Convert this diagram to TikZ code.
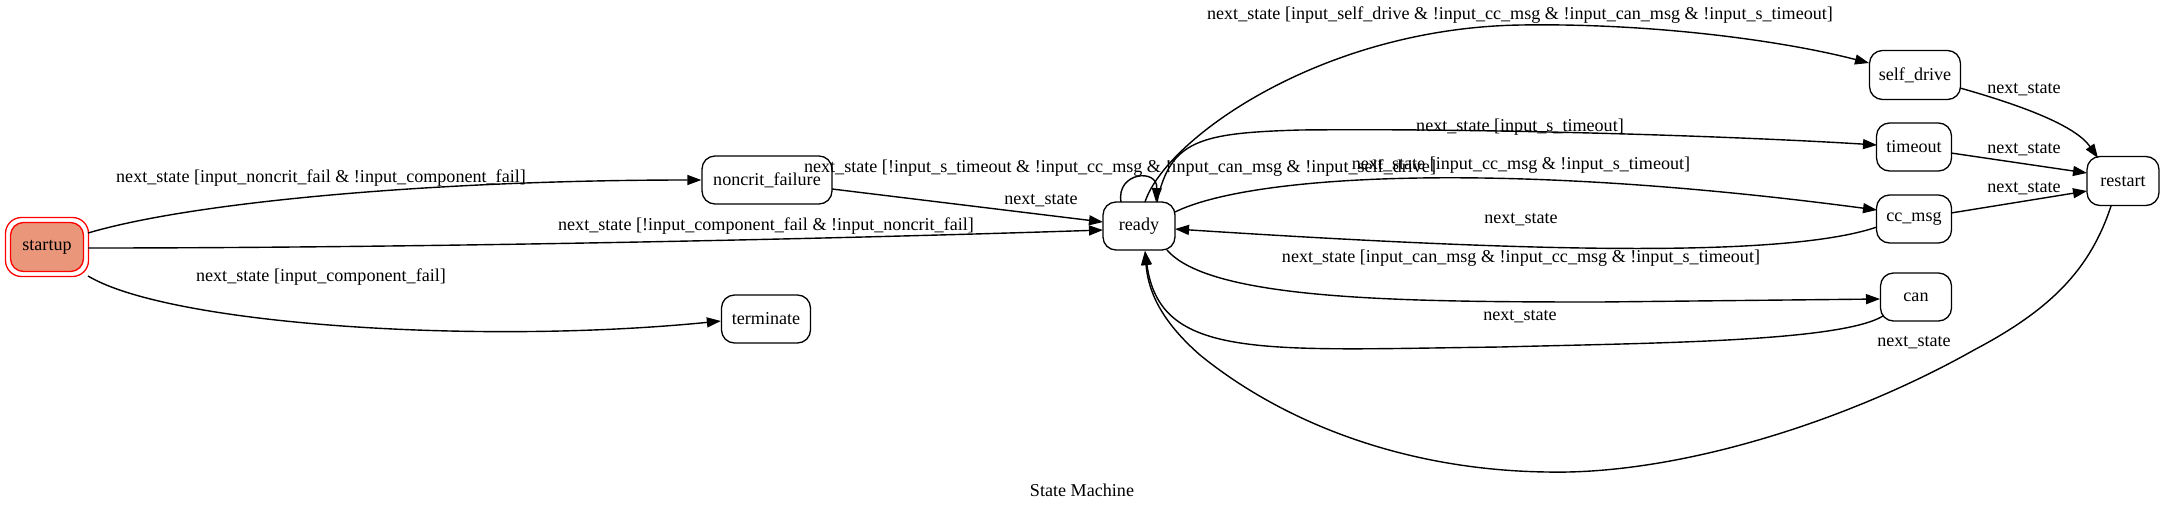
\documentclass[tikz,border=0pt]{standalone}
\usepackage{fontspec}
\setmainfont{Liberation Serif}
\usetikzlibrary{arrows.meta}
\definecolor{salmonfill}{HTML}{E9967A}
\newcommand{\lblfont}{\fontsize{18.1}{21}\selectfont}
\begin{document}
\begin{tikzpicture}[x=1pt,y=-1pt,
  state/.style={draw, line width=1.3pt, rounded corners=13pt, minimum height=48pt, inner sep=0pt, font=\lblfont},
  lab/.style={inner sep=0pt, font=\lblfont},
  edge/.style={line width=1.4pt, -{Triangle[length=14pt,width=10pt]}},
]
\useasboundingbox[fill=white] (0,0) rectangle (2164,509);
% nodes
\node[draw=red, line width=1.3pt, rounded corners=16pt, minimum width=83pt, minimum height=59pt, inner sep=0pt] (startup) at (47,247) {};
\node[state, draw=red, fill=salmonfill, minimum width=73pt, minimum height=49pt] (startupin) at (startup.center) {startup};
\node[state, minimum width=130pt] (noncrit) at (767,180) {noncrit\_failure};
\node[state, minimum width=89pt] (terminate) at (766,319) {terminate};
\node[state, minimum width=72pt] (ready) at (1139,226) {ready};
\node[state, minimum width=91pt, minimum height=49pt] (selfdrive) at (1915,75) {self\_drive};
\node[state, minimum width=75pt] (timeout) at (1914,147) {timeout};
\node[state, minimum width=75pt] (ccmsg) at (1914,219) {cc\_msg};
\node[state, minimum width=71pt] (can) at (1916,297) {can};
\node[state, minimum width=72pt, minimum height=49pt] (restart) at (2123,181) {restart};
% edges
\draw[edge] ([shift={(41,-14)}]startup.center) .. controls (200,200) and (450,180) .. (noncrit.west);
\draw[edge] ([shift={(41,1)}]startup.center) .. controls (400,248) and (800,240) .. ([shift={(-36,4)}]ready.center);
\draw[edge] ([shift={(41,29)}]startup.center) .. controls (170,325) and (480,345) .. ([shift={(0,2)}]terminate.west);
\draw[edge] ([shift={(65,9)}]noncrit.center) -- ([shift={(-36,-4)}]ready.center);
\draw[edge] ([shift={(-18,-24)}]ready.center) .. controls (1116,172) and (1158,168) .. ([shift={(17,-24)}]ready.center);
\draw[edge] ([shift={(6,-24)}]ready.center) .. controls (1165,140) and (1320,28) .. (1521,25) .. controls (1650,23) and (1780,40) .. ([shift={(-46,-12)}]selfdrive.center);
\draw[edge] ([shift={(18,-24)}]ready.center) .. controls (1170,140) and (1200,133) .. (1300,130) .. controls (1500,128) and (1750,137) .. ([shift={(-37,-2)}]timeout.center);
\draw[edge] ([shift={(36,-14)}]ready.center) .. controls (1250,175) and (1500,160) .. ([shift={(-37,-9)}]ccmsg.center);
\draw[edge] ([shift={(-37,8)}]ccmsg.center) .. controls (1780,260) and (1500,250) .. ([shift={(36,3)}]ready.center);
\draw[edge] ([shift={(28,24)}]ready.center) .. controls (1210,300) and (1400,302) .. (1600,302) -- ([shift={(-36,2)}]can.center);
\draw[edge] ([shift={(-33,19)}]can.center) .. controls (1840,342) and (1650,343) .. (1500,347) .. controls (1260,350) and (1160,360) .. ([shift={(6,25)}]ready.center);
\draw[edge] ([shift={(45,13)}]selfdrive.center) .. controls (2020,105) and (2075,125) .. ([shift={(-25,-23)}]restart.center);
\draw[edge] ([shift={(37,6)}]timeout.center) -- ([shift={(-36,-8)}]restart.center);
\draw[edge] ([shift={(37,-6)}]ccmsg.center) -- ([shift={(-36,10)}]restart.center);
\draw[edge] ([shift={(-12,25)}]restart.center) .. controls (2090,270) and (2050,310) .. (1974,350) .. controls (1850,420) and (1680,475) .. (1547,472) .. controls (1400,470) and (1280,420) .. (1200,355) .. controls (1160,320) and (1148,290) .. ([shift={(6,25)}]ready.center);
% labels
\node[lab] (l1) at (321,178) {next\_state [input\_noncrit\_fail \& !input\_component\_fail]};
\node[lab] (l2) at (766,226) {next\_state [!input\_component\_fail \& !input\_noncrit\_fail]};
\node[lab] (l3) at (321,277) {next\_state [input\_component\_fail]};
\node[lab] (l4) at (1041,201) {next\_state};
\node[lab] (l5) at (1120,168) {next\_state [!input\_s\_timeout \& !input\_cc\_msg \& !input\_can\_msg \& !input\_self\_drive]};
\node[lab] (l6) at (1520,15) {next\_state [input\_self\_drive \& !input\_cc\_msg \& !input\_can\_msg \& !input\_s\_timeout]};
\node[lab] (l7) at (1520,127) {next\_state [input\_s\_timeout]};
\node[lab] (l8) at (1521,165) {next\_state [input\_cc\_msg \& !input\_s\_timeout]};
\node[lab] (l9) at (1521,220) {next\_state};
\node[lab] (l10) at (1521,258) {next\_state [input\_can\_msg \& !input\_cc\_msg \& !input\_s\_timeout]};
\node[lab] (l11) at (1520,317) {next\_state};
\node[lab] (l12) at (2024,90) {next\_state};
\node[lab] (l13) at (2024,150) {next\_state};
\node[lab] (l14) at (2024,189) {next\_state};
\node[lab] (l15) at (1914,343) {next\_state};
\node[lab] (title) at (1082,490) {State Machine};
\end{tikzpicture}
\end{document}
